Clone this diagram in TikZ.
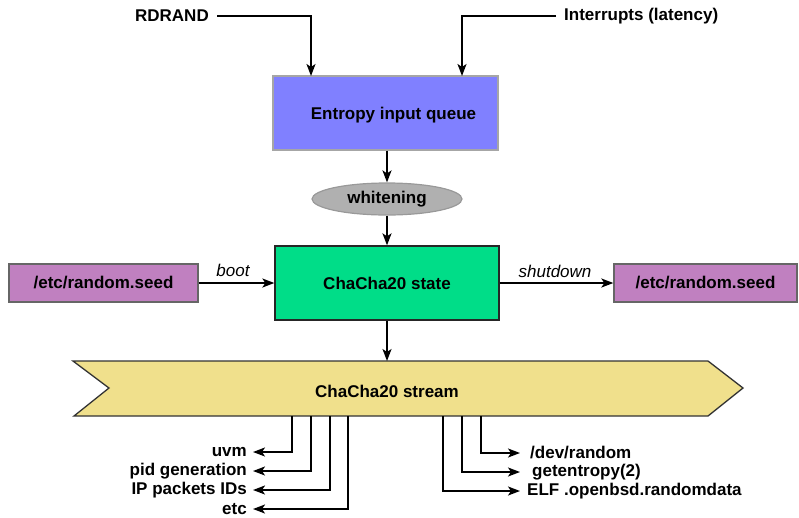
\documentclass[tikz,border=0pt]{standalone}
\usepackage{fontspec}
\setmainfont{Liberation Sans}
\usetikzlibrary{shapes.geometric,arrows.meta}
\definecolor{entropyblue}{HTML}{8080FF}
\definecolor{statgreen}{HTML}{00DD88}
\definecolor{seedpurple}{HTML}{C080C0}
\definecolor{streamyellow}{HTML}{F0E08C}
\definecolor{whitegray}{HTML}{B0B0B0}
\tikzset{
  lbl/.style={font=\fontsize{17}{20}\selectfont\bfseries, inner sep=2pt},
  edgelbl/.style={font=\fontsize{17}{20}\selectfont\itshape, inner sep=0pt},
  arr/.style={line width=1.8pt, -{Stealth[length=12pt,width=9pt,inset=3pt]}},
  boxbase/.style={draw, line width=1.3pt, inner sep=0pt},
  entropybox/.style={boxbase, draw=gray!70, fill=entropyblue, minimum width=225pt, minimum height=74pt},
  statebox/.style={boxbase, draw=black!85, fill=statgreen, minimum width=224pt, minimum height=74pt, font=\fontsize{17}{20}\selectfont\bfseries},
  seedbox/.style={boxbase, draw=black!60, fill=seedpurple, minimum height=38pt, font=\fontsize{17}{20}\selectfont\bfseries},
  whiteell/.style={ellipse, draw=gray!80, line width=1.2pt, fill=whitegray, minimum width=150pt, minimum height=32pt, inner sep=0pt, font=\fontsize{17}{20}\selectfont\bfseries},
}
\begin{document}
\begin{tikzpicture}[x=1pt,y=-1pt]
\useasboundingbox (0,0) rectangle (799,517);

% top sources
\node[lbl, inner xsep=8pt, anchor=east] (rdrand) at (217,16) {RDRAND};
\node[lbl, inner xsep=8pt, anchor=west] (intr) at (556,16) {Interrupts (latency)};

% entropy queue
\node[entropybox] (entropy) at (385.5,113) {};
\node[lbl] (entropytxt) at (393.5,115) {Entropy input queue};
\coordinate (ein1) at (311,76);
\coordinate (ein2) at (462,76);

\draw[arr] (rdrand.east) -| (ein1);
\draw[arr] (intr.west) -| (ein2);

% whitening
\node[whiteell] (white) at (387,199) {whitening};
\draw[arr] (entropy.south -| white.north) -- (white.north);

% state
\node[statebox] (state) at (387,283) {ChaCha20 state};
\draw[arr] (white.south) -- (white.south |- state.north);

% seeds
\node[seedbox, minimum width=189pt] (seedL) at (103.5,283) {/etc/random.seed};
\node[seedbox, minimum width=183pt] (seedR) at (705.5,283) {/etc/random.seed};
\draw[arr] (seedL.east) -- (state.west);
\draw[arr] (state.east) -- (seedR.west);
\node[edgelbl] (bootlbl) at (233,270) {boot};
\node[edgelbl] (shutlbl) at (555,271) {shutdown};

% stream
\draw[line width=1.3pt, draw=black!80, fill=streamyellow]
  (73,361) -- (708,361) -- (743,388) -- (708,416) -- (74,416) -- (109,388) -- cycle;
\node[lbl] (stream) at (387,391) {ChaCha20 stream};
\coordinate (stop) at (387,361);
\draw[arr] (state.south) -- (stop);

% consumers left
\coordinate (s1) at (292,416);
\coordinate (s2) at (311,416);
\coordinate (s3) at (330,416);
\coordinate (s4) at (348,416);
\node[lbl, inner xsep=6pt, anchor=east] (uvm) at (253,452) {uvm};
\node[lbl, inner xsep=6pt, anchor=east] (pid) at (253,471) {pid generation};
\node[lbl, inner xsep=6pt, anchor=east] (ipid) at (253,490) {IP packets IDs};
\node[lbl, inner xsep=6pt, anchor=east] (etc) at (253,509) {etc};
\draw[arr] (s1) |- (uvm.east);
\draw[arr] (s2) |- (pid.east);
\draw[arr] (s3) |- (ipid.east);
\draw[arr] (s4) |- (etc.east);

% consumers right
\coordinate (r1) at (443,416);
\coordinate (r2) at (462,416);
\coordinate (r3) at (481,416);
\node[lbl, anchor=west] (devr) at (520,453) {\hspace{8pt}/dev/random};
\node[lbl, anchor=west] (gete) at (520,472) {\hspace{10pt}getentropy(2)};
\node[lbl, anchor=west] (elf) at (520,491) {\hspace{5pt}ELF .openbsd.randomdata};
\draw[arr] (r3) |- (devr.west);
\draw[arr] (r2) |- (gete.west);
\draw[arr] (r1) |- (elf.west);
\end{tikzpicture}
\end{document}
